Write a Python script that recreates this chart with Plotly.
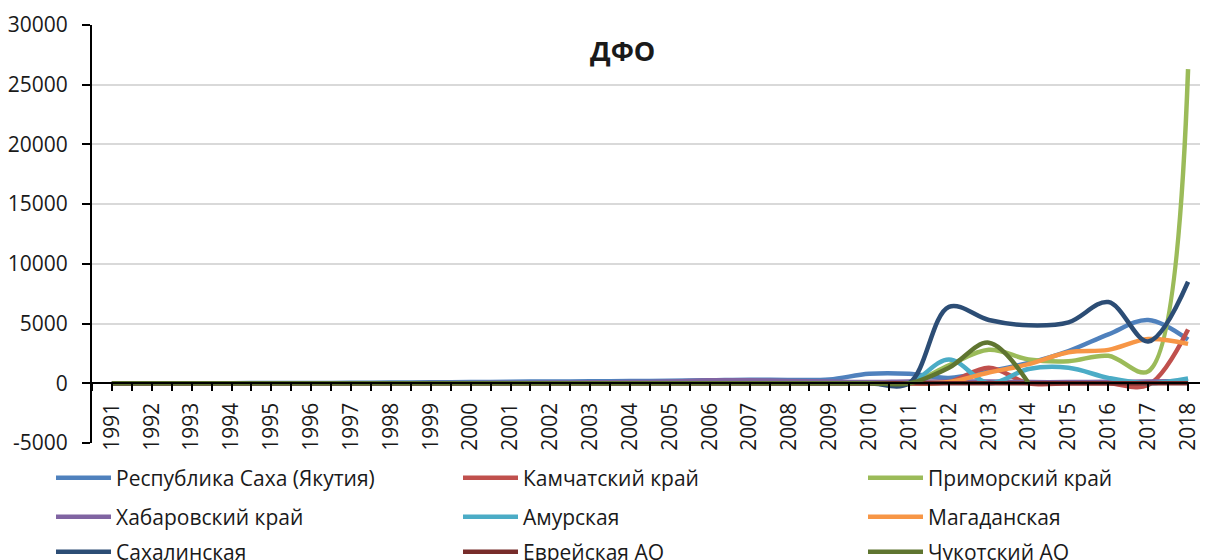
import plotly.graph_objects as go

years = list(range(1991, 2019))
year_labels = [str(y) for y in years]

sakha = [0, 0, 0, 10, 20, 30, 40, 60, 80, 100, 130, 150, 170, 190, 210, 250, 300, 280, 320, 800, 800, 450, 1000, 1700, 2700, 4100, 5300, 3650]
kamchatka = [0]*20 + [0, 100, 1300, 0, 0, 0, -150, 4500]
primorsky = [0]*20 + [0, 1500, 2800, 2000, 1850, 2300, 1000, 26300]
khabarovsk = [0, 0, 0, 0, 0, 0, 0, 0, 20, 30, 50, 60, 80, 100, 150, 250, 250, 200, 150, 100, 150, 150, 150, 100, 100, 120, 150, 200]
amur = [0]*20 + [0, 2000, 0, 1200, 1300, 450, 0, 400]
magadan = [0]*20 + [0, 100, 900, 1600, 2600, 2800, 3700, 3300]
sakhalin = [0]*20 + [0, 6400, 5300, 4850, 5100, 6800, 3500, 8500]
evrei = [0]*28
chukotka = [0]*21 + [1300, 3400, 0, None, None, None, None]

names = ["Республика Саха (Якутия)", "Камчатский край", "Приморский край",
         "Хабаровский край", "Амурская", "Магаданская",
         "Сахалинская", "Еврейская АО", "Чукотский АО"]
values = [sakha, kamchatka, primorsky, khabarovsk, amur, magadan, sakhalin, evrei, chukotka]
colors = ["#4F81BD", "#C0504D", "#9BBB59", "#8064A2", "#4BACC6", "#F79646",
          "#2C4D75", "#772C2A", "#5F7530"]

y_ticks = [-5000, 0, 5000, 10000, 15000, 20000, 25000, 30000]
y_tick_text = [str(v) for v in y_ticks]

FONT = "Open Sans"
TXT = "#1a1a1a"

# page has an 8px body offset
OFF = 8
W, H = 1208 - OFF, 560 - OFF
ml, mr, mt, mb = 92 - OFF, 0, 25 - OFF, 117
plot_w = W - ml - mr
plot_h = H - mt - mb

def px_x(page_px):
    return (page_px - OFF - ml) / plot_w

def px_y(page_py):
    return (H - mb - (page_py - OFF)) / plot_h

col_line_x = [58, 465, 870]
row_y = [478, 517, 552]

fig = go.Figure()
xs = list(range(len(years)))
layout_legends = {}
for i, (name, vals, color) in enumerate(zip(names, values, colors)):
    key = "legend" if i == 0 else f"legend{i+1}"
    fig.add_trace(go.Scatter(
        x=xs, y=vals, name=name, mode="lines",
        line=dict(color=color, width=4.5, shape="spline", smoothing=1.0),
        legend=key, connectgaps=False,
    ))
    r, c = divmod(i, 3)
    layout_legends[key] = dict(
        orientation="h", xanchor="left", yanchor="middle",
        x=px_x(col_line_x[c] - 7), y=px_y(row_y[r]),
        font=dict(family=FONT, size=21, color=TXT),
        itemwidth=55, bgcolor="rgba(0,0,0,0)",
        xref="paper", yref="paper",
    )

fig.update_layout(
    width=W, height=H,
    margin=dict(l=ml, r=mr, t=mt, b=mb, autoexpand=False),
    paper_bgcolor="white", plot_bgcolor="white",
    font=dict(family=FONT, color=TXT),
    showlegend=True,
    xaxis=dict(
        range=[-0.5, len(years) - 0.5],
        tickmode="array", tickvals=xs, ticktext=year_labels,
        tickangle=-90, tickfont=dict(family=FONT, size=21, color=TXT),
        ticklabelstandoff=3,
        showgrid=False, zeroline=False,
        showline=True, linecolor="black", linewidth=2,
        ticks="outside", ticklen=7, tickcolor="black", tickwidth=2,
        minor=dict(tickmode="linear", tick0=-0.5, dtick=1, ticks="outside",
                   ticklen=7, tickcolor="black", tickwidth=2, showgrid=False),
        anchor="free", position=5000/35000,
        fixedrange=True,
    ),
    yaxis=dict(
        range=[-5000, 30000],
        tickmode="array", tickvals=y_ticks, ticktext=y_tick_text,
        tickfont=dict(family=FONT, size=21, color=TXT),
        showgrid=True, gridcolor="#D9D9D9", gridwidth=2,
        zeroline=False,
        showline=True, linecolor="black", linewidth=2,
        ticks="outside", ticklen=8, tickcolor="black", tickwidth=2,
        ticklabelstandoff=10,
        domain=[0, 1],
    ),
    annotations=[dict(
        text="<b>ДФО</b>", x=px_x(622), y=px_y(50),
        xref="paper", yref="paper", showarrow=False,
        font=dict(family=FONT, size=27, color=TXT),
        xanchor="center", yanchor="middle",
    )],
    **layout_legends,
)

fig.write_html("out.html")
